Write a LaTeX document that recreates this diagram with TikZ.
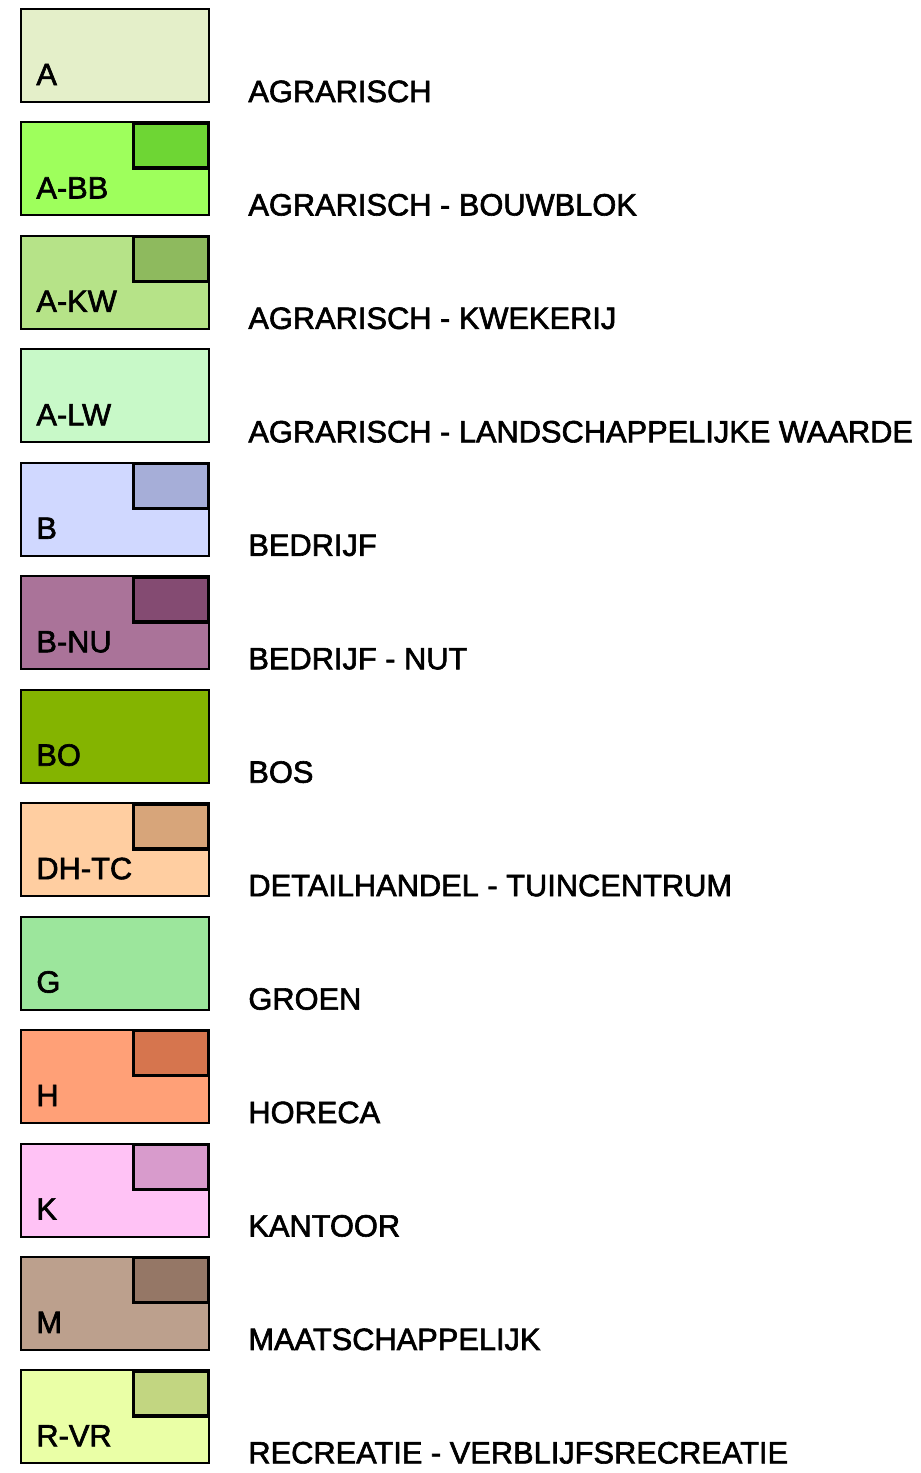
\documentclass[tikz,border=0pt]{standalone}
\usepackage{fontspec}
\setmainfont{Liberation Sans}
\newfontfamily\legfont[RawFeature={embolden=2}]{Liberation Sans}
\usetikzlibrary{positioning}
\definecolor{vA}{HTML}{E4EFC9}
\definecolor{vABB}{HTML}{9EFF5C}
\definecolor{bABB}{HTML}{6ED634}
\definecolor{vAKW}{HTML}{B6E388}
\definecolor{bAKW}{HTML}{8EBA5E}
\definecolor{vALW}{HTML}{C8F9C8}
\definecolor{vB}{HTML}{D0D8FF}
\definecolor{bB}{HTML}{A6AED8}
\definecolor{vBNU}{HTML}{AA7399}
\definecolor{bBNU}{HTML}{844B72}
\definecolor{vBO}{HTML}{84B400}
\definecolor{vDHTC}{HTML}{FFCEA1}
\definecolor{bDHTC}{HTML}{D7A57A}
\definecolor{vG}{HTML}{9CE69C}
\definecolor{vH}{HTML}{FFA077}
\definecolor{bH}{HTML}{D6754E}
\definecolor{vK}{HTML}{FFC2F5}
\definecolor{bK}{HTML}{D89BCC}
\definecolor{vM}{HTML}{BCA08D}
\definecolor{bM}{HTML}{957766}
\definecolor{vRVR}{HTML}{EAFFA6}
\definecolor{bRVR}{HTML}{C2D681}
\tikzset{every picture/.style={x=0.5pt,y=-0.5pt},
  vlak/.style={draw, line width=1pt, minimum width=94pt, minimum height=46.5pt, inner sep=0pt, anchor=north west},
  bouwvlak/.style={draw, line width=1.7pt, minimum width=37.5pt, minimum height=22.5pt, inner sep=0pt, anchor=north east},
  code/.style={font=\legfont\fontsize{15.4}{18}\selectfont, inner sep=0pt, anchor=base west},
  omschrijving/.style={font=\legfont\fontsize{15.4}{18}\selectfont, inner sep=0pt, anchor=base west}}

\begin{document}
\begin{tikzpicture}
\useasboundingbox (0,0) rectangle (921,1473);
\foreach \code/\naam/\kl/\blok [count=\i from 0] in {
  A/AGRARISCH/A/0,
  A-BB/AGRARISCH - BOUWBLOK/ABB/1,
  A-KW/AGRARISCH - KWEKERIJ/AKW/1,
  A-LW/AGRARISCH - LANDSCHAPPELIJKE WAARDE/ALW/0,
  B/BEDRIJF/B/1,
  B-NU/BEDRIJF - NUT/BNU/1,
  BO/BOS/BO/0,
  DH-TC/DETAILHANDEL - TUINCENTRUM/DHTC/1,
  G/GROEN/G/0,
  H/HORECA/H/1,
  K/KANTOOR/K/1,
  M/MAATSCHAPPELIJK/M/1,
  R-VR/RECREATIE - VERBLIJFSRECREATIE/RVR/1}
{
  \node[vlak, fill=v\kl] (vlak\i) at (20, {8+113.45*\i}) {};
  \ifnum\blok=1
    \node[bouwvlak, fill=b\kl] (blok\i) at (vlak\i.north east) {};
  \fi
  \node[code] (code\i) at ([xshift=8pt, yshift=9pt]vlak\i.south west) {\code};
  \node[omschrijving] (naam\i) at ([xshift=19pt, yshift=0.5pt]vlak\i.south east) {\naam};
}
\end{tikzpicture}
\end{document}
